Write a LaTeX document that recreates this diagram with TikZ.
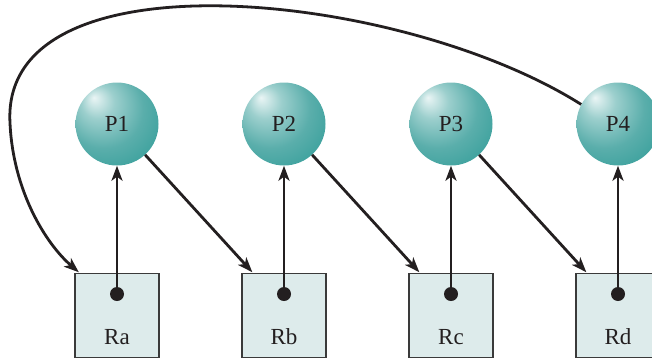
\documentclass[tikz,border=0pt]{standalone}
\usepackage{fontspec}
\setmainfont{Liberation Serif}
\usetikzlibrary{arrows.meta,calc}
\definecolor{ink}{HTML}{231F20}
\definecolor{boxfill}{HTML}{DDEBEB}
\definecolor{boxline}{HTML}{3A3A3A}
\definecolor{tA}{HTML}{EAF5F5}
\definecolor{tB}{HTML}{9CCFCD}
\definecolor{tC}{HTML}{5AAEAB}
\definecolor{tD}{HTML}{379F9B}
\definecolor{tE}{HTML}{1E9590}
\pgfdeclareradialshading{tealball}{\pgfpoint{-14bp}{16bp}}{%
  color(0bp)=(tA);
  color(10bp)=(tB);
  color(24bp)=(tC);
  color(38bp)=(tD);
  color(58bp)=(tE)}
\begin{document}
\begin{tikzpicture}[x=1pt,y=-1pt,
  proc/.style={circle,minimum size=83pt,inner sep=0pt,shading=tealball,text=ink,
    font=\fontsize{23}{27}\selectfont},
  res/.style={draw=boxline,line width=1.3pt,fill=boxfill,minimum width=84pt,minimum height=84pt,inner sep=0pt},
  lbl/.style={text=ink,font=\fontsize{23}{27}\selectfont},
  hold/.style={circle,fill=ink,minimum size=14pt,inner sep=0pt},
  conn/.style={draw=ink,line width=2.8pt,-{Stealth[length=15pt,width=11pt,inset=4pt]}}]
\useasboundingbox (0,0) rectangle (652,359);
\foreach \n/\x in {1/117,2/284,3/451,4/618}{
  \node[proc] (P\n) at (\x,124) {P\n};
}
\foreach \n/\x in {a/117,b/284,c/451,d/618}{
  \node[res] (R\n) at (\x,315.5) {};
  \node[lbl] (L\n) at (\x,337) {R\n};
  \node[hold] (H\n) at (\x,294) {};
}
% hold arrows
\draw[conn] (Ha.center) -- (P1);
\draw[conn] (Hb.center) -- (P2);
\draw[conn] (Hc.center) -- (P3);
\draw[conn] (Hd.center) -- (P4);
% request arrows
\coordinate (Tb) at ($(Rb.north west)+(11,-0.6)$);
\coordinate (Tc) at ($(Rc.north west)+(11,-0.6)$);
\coordinate (Td) at ($(Rd.north west)+(11,-0.6)$);
\coordinate (Ta) at ($(Ra.north west)+(4.5,-0.6)$);
\draw[conn] (P1) -- (Tb);
\draw[conn] (P2) -- (Tc);
\draw[conn] (P3) -- (Td);
\coordinate (W) at (10,123);
\draw[conn] (P4.152) .. controls (400,-10) and (0,-50) .. (W)
  .. controls (13,190) and (45,243) .. (Ta);
\end{tikzpicture}
\end{document}
